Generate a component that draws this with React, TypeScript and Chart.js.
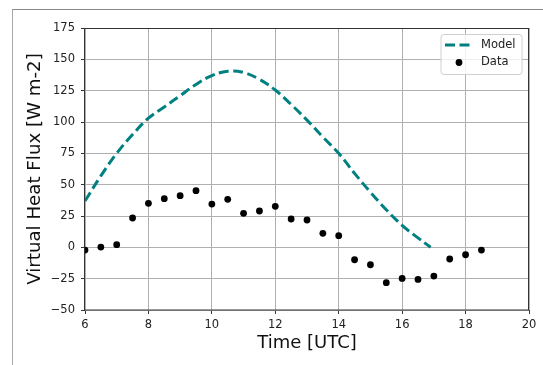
import React, { useEffect, useRef } from "react";
import { Chart, registerables } from "chart.js";

Chart.register(...registerables);

// ---- data ----
const modelHours = [6, 6.5, 7, 7.5, 8, 8.5, 9, 9.5, 10, 10.5, 11, 11.5, 12, 12.5, 13, 13.5, 14, 14.5, 15, 15.5, 16, 16.5, 16.9];
const modelFlux = [37, 57, 75, 90, 103, 112, 121, 130, 137, 140.5, 139.5, 134, 125.5, 114, 101.5, 88, 75, 59, 44, 30, 17.5, 7.5, 0];

const dataHours = [6, 6.5, 7, 7.5, 8, 8.5, 9, 9.5, 10, 10.5, 11, 11.5, 12, 12.5, 13, 13.5, 14, 14.5, 15, 15.5, 16, 16.5, 17, 17.5, 18, 18.5];
const dataFlux = [-2.2, 0.2, 2.1, 23.4, 35.1, 38.8, 41.2, 45.2, 34.5, 38.3, 27.1, 29, 32.7, 22.6, 21.8, 11.2, 9.3, -9.9, -13.9, -28.2, -24.8, -25.6, -22.9, -9.3, -5.9, -2.2];

const seriesLabels = ["Model", "Data"];
const xLabel = "Time [UTC]";
const yLabel = "Virtual Heat Flux [W m-2]";
const xRange = [6, 20];
const yRange = [-50, 175];

const FONT = "'DejaVu Sans', sans-serif";
const TEAL = "#008080";

const boxPlugin = {
  id: "boxAndLegend",
  afterDatasetsDraw(chart: any) {
    const { ctx, chartArea } = chart;
    const { left, right, top, bottom } = chartArea;
    ctx.save();
    ctx.strokeStyle = "#333";
    ctx.lineWidth = 1;
    ctx.strokeRect(Math.round(left) - 0.5, Math.round(top) + 0.5, Math.round(right) - Math.round(left), Math.round(bottom) - Math.round(top) - 0.5);

    // legend
    const lx = 441, ly = 34.5, lw = 81, lh = 40, r = 3;
    ctx.beginPath();
    ctx.moveTo(lx + r, ly);
    ctx.lineTo(lx + lw - r, ly);
    ctx.quadraticCurveTo(lx + lw, ly, lx + lw, ly + r);
    ctx.lineTo(lx + lw, ly + lh - r);
    ctx.quadraticCurveTo(lx + lw, ly + lh, lx + lw - r, ly + lh);
    ctx.lineTo(lx + r, ly + lh);
    ctx.quadraticCurveTo(lx, ly + lh, lx, ly + lh - r);
    ctx.lineTo(lx, ly + r);
    ctx.quadraticCurveTo(lx, ly, lx + r, ly);
    ctx.closePath();
    ctx.fillStyle = "rgba(255,255,255,0.8)";
    ctx.fill();
    ctx.strokeStyle = "#d0d0d0";
    ctx.lineWidth = 1;
    ctx.stroke();

    const ds = chart.data.datasets;
    // Model entry
    ctx.strokeStyle = ds[0].borderColor;
    ctx.lineWidth = 3;
    ctx.setLineDash([10, 4.5]);
    ctx.beginPath();
    ctx.moveTo(445, 45);
    ctx.lineTo(471, 45);
    ctx.stroke();
    ctx.setLineDash([]);
    // Data entry
    ctx.fillStyle = "#000";
    ctx.beginPath();
    ctx.arc(459, 62.5, 3.4, 0, Math.PI * 2);
    ctx.fill();

    ctx.fillStyle = "#222";
    ctx.font = `11.5px ${FONT}`;
    ctx.textBaseline = "middle";
    ctx.textAlign = "left";
    ctx.fillText(ds[0].label, 481, 45);
    ctx.fillText(ds[1].label, 481, 62.5);
    ctx.restore();
  },
};

export default function App() {
  const canvasRef = useRef<HTMLCanvasElement | null>(null);

  useEffect(() => {
    const canvas = canvasRef.current;
    if (!canvas) return;
    const chart = new Chart(canvas, {
      type: "scatter",
      data: {
        datasets: [
          {
            type: "line",
            label: seriesLabels[0],
            data: modelHours.map((h, i) => ({ x: h, y: modelFlux[i] })),
            borderColor: TEAL,
            backgroundColor: TEAL,
            borderWidth: 3,
            borderDash: [10, 4.5],
            pointRadius: 0,
            fill: false,
            tension: 0.4,
            clip: 0,
            order: 2,
          } as any,
          {
            type: "scatter",
            label: seriesLabels[1],
            data: dataHours.map((h, i) => ({ x: h, y: dataFlux[i] })),
            backgroundColor: "#000",
            borderColor: "#000",
            borderWidth: 0,
            pointRadius: 3.4,
            clip: 0,
            order: 1,
          } as any,
        ],
      },
      options: {
        responsive: false,
        animation: false,
        events: [],
        layout: { padding: { top: 28, right: 14, left: 0, bottom: 0 } },
        plugins: {
          legend: { display: false },
          tooltip: { enabled: false },
        },
        scales: {
          x: {
            type: "linear",
            min: xRange[0],
            max: xRange[1],
            afterFit: (s: any) => { s.height = 55; },
            border: { display: false },
            grid: { color: "#b0b0b0", lineWidth: 1, tickColor: "#333", tickLength: 4, tickWidth: 1 },
            ticks: { stepSize: 2, color: "#222", font: { family: FONT, size: 11.5 }, padding: 4, maxRotation: 0 },
            title: { display: true, text: xLabel, color: "#111", font: { family: FONT, size: 18, lineHeight: 1.2 }, padding: { top: 0, bottom: 10.7 } },
          },
          y: {
            type: "linear",
            min: yRange[0],
            max: yRange[1],
            afterFit: (s: any) => { s.width = 85; },
            border: { display: false },
            grid: { color: "#b0b0b0", lineWidth: 1, tickColor: "#333", tickLength: 4, tickWidth: 1 },
            ticks: {
              stepSize: 25,
              color: "#222",
              font: { family: FONT, size: 11.5 },
              padding: 6,
              callback: (v: any) => (Number(v) < 0 ? "\u2212" + Math.abs(Number(v)) : String(v)),
            },
            title: { display: true, text: yLabel, color: "#111", font: { family: FONT, size: 18.2, lineHeight: 1.2 }, padding: { top: 24.7, bottom: 0 } },
          },
        },
      },
      plugins: [boxPlugin],
    });
    return () => chart.destroy();
  }, []);

  return (
    <div style={{ position: "fixed", left: 0, top: 0, width: 543, height: 365, background: "#fff" }}>
      <div style={{ position: "absolute", left: 12, top: 9, right: 0, bottom: 0, borderLeft: "1px solid #aaa", borderTop: "1px solid #888" }} />
      <canvas ref={canvasRef} width={543} height={365} style={{ position: "absolute", left: 0, top: 0 }} />
    </div>
  );
}
